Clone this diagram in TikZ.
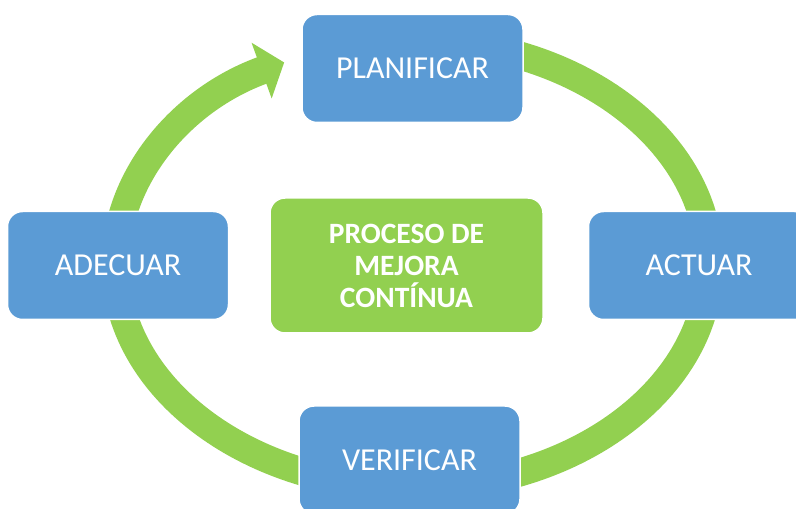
\documentclass[tikz,border=0pt]{standalone}
\usepackage{fontspec}
\setmainfont{Carlito}
\usetikzlibrary{
	arrows.meta,
	positioning,
	calc
}
\definecolor{cycblue}{HTML}{5B9BD5}
\definecolor{cycgreen}{HTML}{92D050}

\begin{document}
\begin{tikzpicture}[x=1pt, y=1pt,
		box/.style={fill=cycblue, draw=white, line width=1.5pt, rounded corners=15pt,
			minimum width=221pt, minimum height=108pt, inner sep=0pt,
			text=white, font=\fontsize{32}{38}\selectfont},
		core/.style={box, fill=cycgreen, minimum width=273pt, minimum height=135pt,
			align=center, font=\bfseries\fontsize{29.5}{32}\selectfont},
		ring/.style={cycgreen, line width=28pt, -{Triangle[length=24pt, width=58pt]}}]

		\useasboundingbox (0,0) rectangle (796,509);
		\clip (0,0) rectangle (796,509);

		\coordinate (O) at (412.5,245);

		% cycle ring, ends in the arrow to PLANIFICAR
		\draw[ring] ($(O)+(90:297pt and 223.5pt)$) arc[start angle=90, end angle=-244.4, x radius=297pt, y radius=223.5pt];

		\node[core] (core) at (406.5,243.5) {PROCESO DE\\MEJORA\\CONTÍNUA};

		\node[box] (plan) at (412.5,440.5) {PLANIFICAR};
		\node[box, right=44pt of core] (act) {ACTUAR};
		\node[box] (verif) at (409.5,49) {VERIFICAR};
		\node[box, left=40pt of core] (adec) {ADECUAR};

	\end{tikzpicture}
\end{document}
